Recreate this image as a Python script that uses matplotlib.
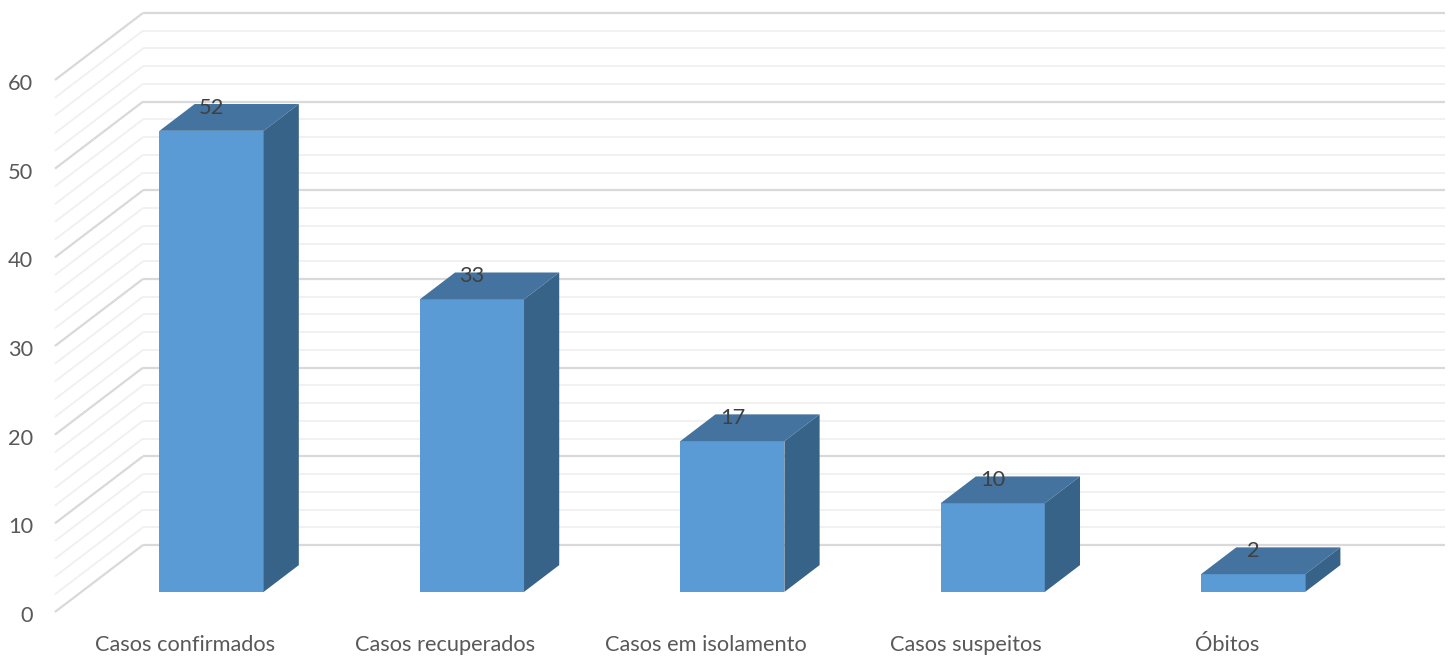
import matplotlib
matplotlib.use("Agg")
import matplotlib.pyplot as plt
from matplotlib.patches import Polygon

categories = ["Casos confirmados", "Casos recuperados", "Casos em isolamento",
              "Casos suspeitos", "Óbitos"]
values = [52, 33, 17, 10, 2]
y_ticks = [0, 10, 20, 30, 40, 50, 60]
minor_step = 2
y_max = 60

# oblique projection of depth (full depth offsets, in data units)
DX, DY = 0.338, 7.556
F0, F1 = 0.3, 0.7          # bar depth span
BW = 0.4                   # bar width (category units)

FRONT = "#5B9BD5"
TOP = "#44739F"
SIDE = "#386388"
MAJOR = "#D9D9D9"
MINOR = "#F0F0F0"

plt.rcParams['font.family'] = ['Lato', 'DejaVu Sans']
FS = 15.7

fig = plt.figure(figsize=(14.53, 6.57), dpi=100)
ax = fig.add_axes([0, 0, 1, 1])
ax.set_xlim(-0.711, 4.869)
ax.set_ylim(-5.075, 69.02)
ax.axis("off")

n = len(categories)
x0, x1 = -0.5, n - 0.5

# gridlines: side wall and back wall
for v in range(0, y_max + 1, minor_step):
    major = v % 10 == 0
    col = MAJOR if major else MINOR
    lw = 1.6 if major else 1.3
    ax.plot([x0, x0 + DX], [v, v + DY], color=col, lw=lw, zorder=1 if major else 0.5,
            solid_capstyle="butt")
    ax.plot([x0 + DX, x1 + DX], [v + DY, v + DY], color=col, lw=lw,
            zorder=1 if major else 0.5, solid_capstyle="butt")

# bars
for i, v in enumerate(values):
    l = i - BW / 2 + F0 * DX
    r = i + BW / 2 + F0 * DX
    b = F0 * DY
    t = v + F0 * DY
    ddx = (F1 - F0) * DX
    ddy = (F1 - F0) * DY
    front = Polygon([(l, b), (r, b), (r, t), (l, t)], closed=True,
                    facecolor=FRONT, edgecolor="none", zorder=3)
    top = Polygon([(l, t), (r, t), (r + ddx, t + ddy), (l + ddx, t + ddy)],
                  closed=True, facecolor=TOP, edgecolor="none", zorder=3)
    side = Polygon([(r, b), (r + ddx, b + ddy), (r + ddx, t + ddy), (r, t)],
                   closed=True, facecolor=SIDE, edgecolor="none", zorder=3)
    for p in (front, top, side):
        ax.add_patch(p)
    ax.text(i + F0 * DX, v + F1 * DY - 0.45, str(v), ha="center", va="center",
            fontsize=FS, color="#404040", zorder=5)

# y tick labels
for v in y_ticks:
    ax.text(-0.5845, v - 0.45, str(v), ha="right", va="center", fontsize=FS,
            color="#595959")

# category labels
for i, c in enumerate(categories):
    ax.text(i, -3.75, c, ha="center", va="center", fontsize=FS, color="#595959")

fig.savefig("out.png", dpi=100)
